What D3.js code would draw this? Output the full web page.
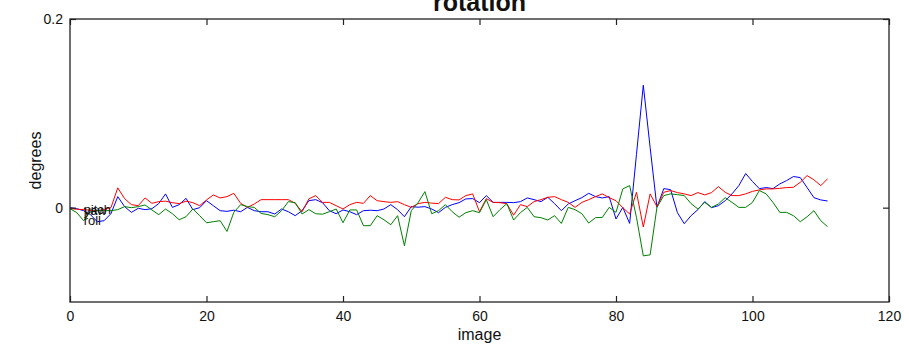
<!DOCTYPE html>
<html><head><meta charset="utf-8">
<script src="https://cdn.jsdelivr.net/npm/d3@7/dist/d3.min.js"></script>
<style>
body{margin:0;background:#fff}
text{font-family:"Liberation Sans",Arial,Helvetica,sans-serif;fill:#111}
</style>
</head><body>
<svg id="chart" width="909" height="348"></svg>
<script>
// ---- data ----
const titleText = "rotation";
const xLabel = "image";
const yLabel = "degrees";
const xTicks = [0, 20, 40, 60, 80, 100, 120];
const yTicks = [0, 0.2];
const xDomain = [0, 120];
const yDomain = [-0.1, 0.2];

// blue series
const yawValues = [0.0000,-0.0011,-0.0032,-0.0074,-0.0149,-0.0138,-0.0064,0.0117,0.0011,-0.0050,
-0.0007,-0.0021,-0.0011,0.0043,0.0146,0.0003,0.0032,0.0099,-0.0021,0.0000,
0.0074,0.0021,-0.0032,-0.0039,-0.0027,-0.0043,0.0003,-0.0032,-0.0043,-0.0043,
-0.0067,-0.0014,-0.0043,-0.0085,-0.0032,0.0074,0.0085,0.0053,-0.0032,-0.0064,
-0.0024,-0.0043,-0.0074,-0.0032,-0.0027,-0.0032,-0.0014,0.0032,-0.0021,-0.0096,
0.0011,0.0005,0.0011,-0.0014,-0.0053,0.0003,0.0032,0.0053,0.0093,0.0096,
0.0053,0.0128,0.0056,0.0056,0.0056,0.0053,0.0064,0.0103,0.0085,0.0064,
0.0110,0.0043,-0.0032,0.0039,0.0074,0.0106,0.0152,0.0117,0.0103,0.0117,
-0.0120,0.0003,-0.0167,0.0564,0.1298,0.0638,0.0003,0.0202,0.0191,-0.0053,
-0.0170,-0.0085,-0.0021,0.0064,0.0000,0.0021,0.0074,0.0146,0.0234,0.0362,
0.0277,0.0202,0.0213,0.0202,0.0252,0.0287,0.0330,0.0319,0.0213,0.0106,
0.0082,0.0071];

// red series
const pitchValues = [-0.0011,-0.0016,-0.0021,-0.0027,-0.0032,-0.0021,0.0000,0.0210,0.0096,0.0032,
0.0021,0.0103,0.0046,0.0064,0.0069,0.0053,0.0043,0.0069,0.0053,0.0021,
0.0082,0.0135,0.0103,0.0117,0.0152,0.0046,0.0003,0.0039,0.0085,0.0085,
0.0085,0.0085,0.0085,0.0046,-0.0043,0.0093,0.0128,0.0056,0.0056,0.0021,
-0.0014,0.0032,0.0056,0.0046,0.0128,0.0074,0.0064,0.0056,0.0064,0.0032,
0.0003,0.0043,0.0056,0.0048,0.0043,0.0110,0.0085,0.0082,0.0128,0.0146,
-0.0043,0.0096,0.0056,0.0053,0.0043,-0.0080,0.0032,0.0011,0.0064,0.0085,
0.0110,0.0117,0.0085,0.0056,0.0003,0.0056,0.0085,0.0117,0.0146,0.0106,
0.0074,0.0000,-0.0067,0.0163,-0.0205,0.0146,0.0011,0.0163,0.0181,0.0160,
0.0146,0.0128,0.0160,0.0135,0.0160,0.0223,0.0163,0.0128,0.0128,0.0146,
0.0173,0.0188,0.0199,0.0199,0.0205,0.0213,0.0216,0.0269,0.0340,0.0295,
0.0234,0.0305];

// green series
const rollValues = [-0.0011,-0.0053,-0.0138,-0.0043,-0.0032,-0.0032,-0.0032,-0.0021,0.0011,0.0000,
0.0011,0.0029,-0.0024,-0.0074,-0.0014,-0.0064,-0.0128,-0.0096,-0.0014,-0.0085,
-0.0160,-0.0149,-0.0138,-0.0252,-0.0050,0.0032,0.0011,0.0003,-0.0061,-0.0074,
-0.0096,-0.0032,0.0064,0.0053,-0.0067,-0.0021,-0.0064,-0.0069,-0.0043,-0.0014,
-0.0160,-0.0024,-0.0024,-0.0191,-0.0191,-0.0085,-0.0128,-0.0181,-0.0085,-0.0404,
-0.0032,0.0053,0.0170,-0.0064,-0.0032,0.0032,-0.0043,-0.0101,-0.0053,-0.0032,
-0.0053,0.0085,-0.0096,-0.0021,0.0043,-0.0131,-0.0053,0.0003,-0.0096,-0.0106,
-0.0131,-0.0085,-0.0167,0.0003,-0.0021,-0.0064,-0.0163,-0.0106,-0.0103,0.0003,
-0.0050,0.0199,0.0234,-0.0103,-0.0511,-0.0500,0.0003,0.0128,0.0146,0.0138,
0.0128,0.0043,-0.0014,0.0056,0.0003,0.0039,0.0106,0.0056,0.0003,0.0003,
0.0056,0.0181,0.0146,0.0056,-0.0050,-0.0050,-0.0085,-0.0149,-0.0096,-0.0032,
-0.0138,-0.0202];

const seriesNames = ["yaw", "pitch", "roll"];
const seriesColors = ["#0000ff", "#ff0000", "#008000"];
const labelIndex = 2;

// ---- drawing ----
const svg = d3.select("#chart");
const M = {left: 70, right: 889, top: 19, bottom: 302};
const x = d3.scaleLinear().domain(xDomain).range([M.left, M.right]);
const y = d3.scaleLinear().domain(yDomain).range([M.bottom, M.top]);

const seriesData = [yawValues, pitchValues, rollValues];
const line = d3.line().x((d, i) => x(i)).y(d => y(d));

const axisColor = "#222";

// lines
svg.append("g").selectAll("path").data(seriesData).join("path")
  .attr("d", d => line(d))
  .attr("fill", "none")
  .attr("stroke", (d, i) => seriesColors[i])
  .attr("stroke-width", 1);

// series labels
svg.append("g").selectAll("text").data(seriesNames).join("text")
  .attr("x", x(labelIndex))
  .attr("y", (d, i) => y(seriesData[i][labelIndex]))
  .attr("dominant-baseline", "central")
  .attr("font-size", 13)
  .text(d => d);

// box
svg.append("rect")
  .attr("x", M.left).attr("y", M.top)
  .attr("width", M.right - M.left).attr("height", M.bottom - M.top)
  .attr("fill", "none").attr("stroke", axisColor).attr("stroke-width", 1.3);

// axes
const gx = svg.append("g").attr("transform", `translate(0,${M.bottom})`)
  .call(d3.axisBottom(x).tickValues(xTicks).tickSizeInner(-6).tickSizeOuter(0).tickPadding(9).tickFormat(d3.format("d")));
const gxt = svg.append("g").attr("transform", `translate(0,${M.top})`)
  .call(d3.axisTop(x).tickValues(xTicks).tickSizeInner(-6).tickSizeOuter(0).tickFormat(""));
const gy = svg.append("g").attr("transform", `translate(${M.left},0)`)
  .call(d3.axisLeft(y).tickValues(yTicks).tickSizeInner(-6).tickSizeOuter(0).tickPadding(7).tickFormat(d => d === 0 ? "0" : d3.format(".1f")(d)));
const gyr = svg.append("g").attr("transform", `translate(${M.right},0)`)
  .call(d3.axisRight(y).tickValues(yTicks).tickSizeInner(-6).tickSizeOuter(0).tickFormat(""));

[gx, gxt, gy, gyr].forEach(g => {
  g.select(".domain").remove();
  g.selectAll("line").attr("stroke", axisColor).attr("stroke-width", 1.2);
  g.selectAll("text").attr("font-size", 14).attr("fill", "#111")
    .style("font-family", '"Liberation Sans",Arial,Helvetica,sans-serif');
});

// title and axis labels
svg.append("text").attr("x", (M.left + M.right) / 2).attr("y", 11)
  .attr("text-anchor", "middle").attr("font-weight", "bold").attr("font-size", 25)
  .text(titleText);
svg.append("text").attr("x", (M.left + M.right) / 2).attr("y", 340)
  .attr("text-anchor", "middle").attr("font-size", 16).text(xLabel);
svg.append("text")
  .attr("transform", `translate(41,${(M.top + M.bottom) / 2}) rotate(-90)`)
  .attr("text-anchor", "middle").attr("font-size", 16).text(yLabel);
</script>
</body></html>
